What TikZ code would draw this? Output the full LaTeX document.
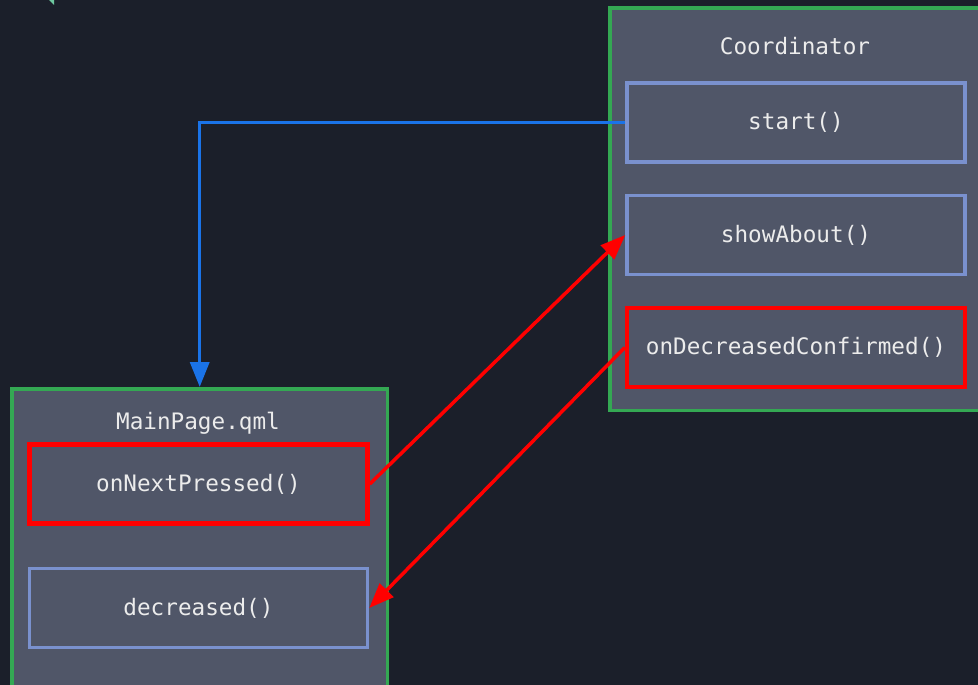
\documentclass[tikz,border=0pt]{standalone}
\usepackage{fontspec}
\setmonofont{DejaVu Sans Mono}
\usetikzlibrary{arrows.meta,positioning}

\definecolor{bg}{RGB}{27,31,42}
\definecolor{panel}{RGB}{80,86,104}
\definecolor{frame}{RGB}{52,168,83}
\definecolor{slotblue}{RGB}{122,145,206}
\definecolor{callblue}{RGB}{26,115,232}
\definecolor{txt}{RGB}{236,236,236}
\definecolor{mint}{RGB}{110,200,160}

\tikzset{
  container/.style={rectangle, draw=frame, fill=panel, line width=2pt, inner sep=0pt, anchor=north west},
  title/.style={text=txt, font=\ttfamily\fontsize{12.9}{15}\selectfont},
  slot/.style={rectangle, draw=slotblue, line width=2pt, minimum width=6.76cm, minimum height=1.58cm, text=txt, font=\ttfamily\fontsize{12.9}{15}\selectfont},
  hotslot/.style={slot, draw=red, line width=2.6pt},
}

\begin{document}
\begin{tikzpicture}[x=0.02cm, y=-0.02cm, >={Triangle[length=0.5cm, width=0.38cm]}]

\clip (0,0) rectangle (978,685);
\fill[bg] (0,0) rectangle (978,685);
\fill[mint] (49,0) -- (54,0) -- (54,5) -- cycle; % cut-off corner

% Coordinator 
\path
(608,6)       node[container, minimum width=7.7cm, minimum height=8.06cm] (coord) {}
(795,46)      node[title] (coordTitle) {Coordinator}
(796,122.5)   node[slot] (start) {start()}
(796,235)     node[slot] (about) {showAbout()}
(796,347.5)   node[hotslot] (confirmed) {onDecreasedConfirmed()}
;

% MainPage.qml 
\path
(10,387)      node[container, minimum width=7.52cm, minimum height=6.2cm] (page) {}
(198,423)     node[title] (pageTitle) {MainPage.qml}
(198.5,484)   node[hotslot] (next) {onNextPressed()}
(198.5,608)   node[slot] (decreased) {decreased()}
;

% calls
\draw[->, callblue, line width=2pt] (start.west) -| (page.north);
\draw[->, red, line width=2pt] (next.east) -- (about.west);
\draw[->, red, line width=2pt] (confirmed.west) -- (decreased.east);

\end{tikzpicture}
\end{document}
